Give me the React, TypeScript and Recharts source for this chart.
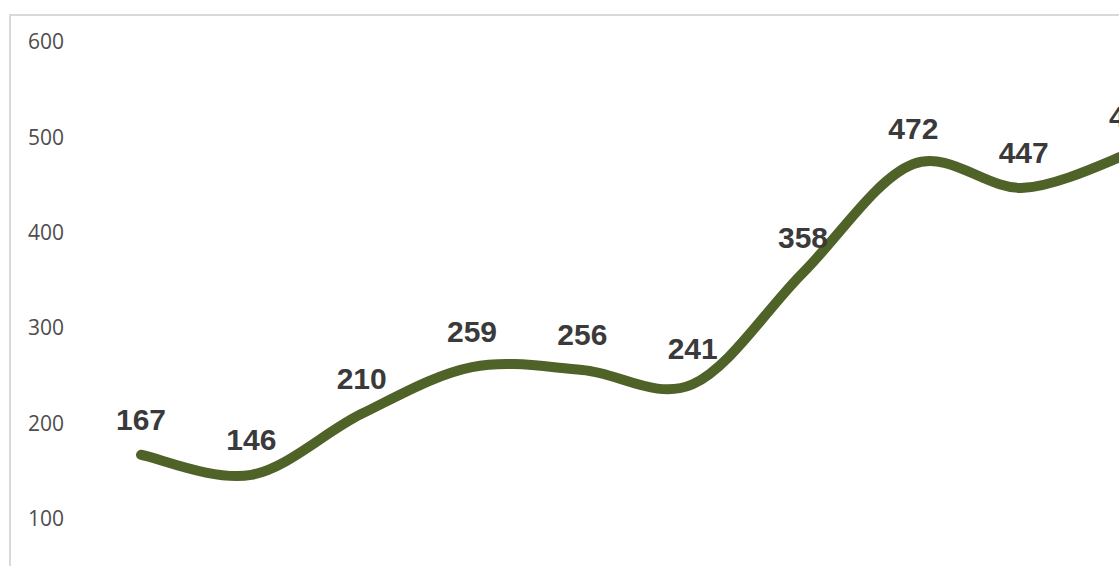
import { LineChart, Line, XAxis, YAxis, LabelList } from 'recharts';

const categories = ['1', '2', '3', '4', '5', '6', '7', '8', '9', '10'];
const values = [167, 146, 210, 259, 256, 241, 358, 472, 447, 485];
const yTicks = [100, 200, 300, 400, 500, 600];

const data = categories.map((name, i) => ({ name, value: values[i] }));

// Excel-style smoothing: cubic bezier with catmull-rom tangents
const smoothCurve = (context: any) => {
  let pts: number[][] = [];
  return {
    areaStart() {},
    areaEnd() {},
    lineStart() {
      pts = [];
    },
    point(x: number, y: number) {
      pts.push([+x, +y]);
    },
    lineEnd() {
      if (!pts.length) return;
      context.moveTo(pts[0][0], pts[0][1]);
      for (let i = 0; i < pts.length - 1; i++) {
        const p0 = pts[i - 1] || pts[i];
        const p1 = pts[i];
        const p2 = pts[i + 1];
        const p3 = pts[i + 2] || pts[i + 1];
        context.bezierCurveTo(
          p1[0] + (p2[0] - p0[0]) / 6,
          p1[1] + (p2[1] - p0[1]) / 6,
          p2[0] - (p3[0] - p1[0]) / 6,
          p2[1] - (p3[1] - p1[1]) / 6,
          p2[0],
          p2[1]
        );
      }
    },
  };
};

const YTick = ({ y, payload }: any) => (
  <text
    x={28}
    y={y}
    dy="0.355em"
    textAnchor="start"
    fill="#4d4d4d"
    fontSize={21}
    fontFamily="'Open Sans', sans-serif"
  >
    {payload.value}
  </text>
);

const ValueLabel = ({ x, y, value }: any) => (
  <text
    x={x}
    y={y - 25}
    textAnchor="middle"
    fill="#3a3a3a"
    fontSize={30}
    fontWeight="bold"
    fontFamily="'Liberation Sans', Arial, sans-serif"
  >
    {value}
  </text>
);

export default function App() {
  return (
    <div
      style={{
        position: 'absolute',
        left: 0,
        top: 0,
        width: 1119,
        height: 566,
        overflow: 'hidden',
        background: '#fff',
      }}
    >
      <div
        style={{
          position: 'absolute',
          left: 9,
          top: 14,
          width: 1200,
          height: 700,
          border: '2px solid #d9d9d9',
          boxSizing: 'border-box',
        }}
      />
      <div style={{ position: 'absolute', left: 0, top: 0 }}>
        <LineChart
          width={1200}
          height={620}
          data={data}
          margin={{ top: 42, right: 12, bottom: 6, left: 0 }}
        >
          <XAxis dataKey="name" hide padding={{ left: 56, right: 54 }} />
          <YAxis
            width={85}
            domain={[0, 600]}
            ticks={yTicks}
            axisLine={false}
            tickLine={false}
            tick={<YTick />}
          />
          <Line
            dataKey="value"
            type={smoothCurve as any}
            stroke="#4f6228"
            strokeWidth={10}
            strokeLinecap="round"
            dot={false}
            activeDot={false}
            isAnimationActive={false}
          >
            <LabelList dataKey="value" content={<ValueLabel />} />
          </Line>
        </LineChart>
      </div>
    </div>
  );
}
